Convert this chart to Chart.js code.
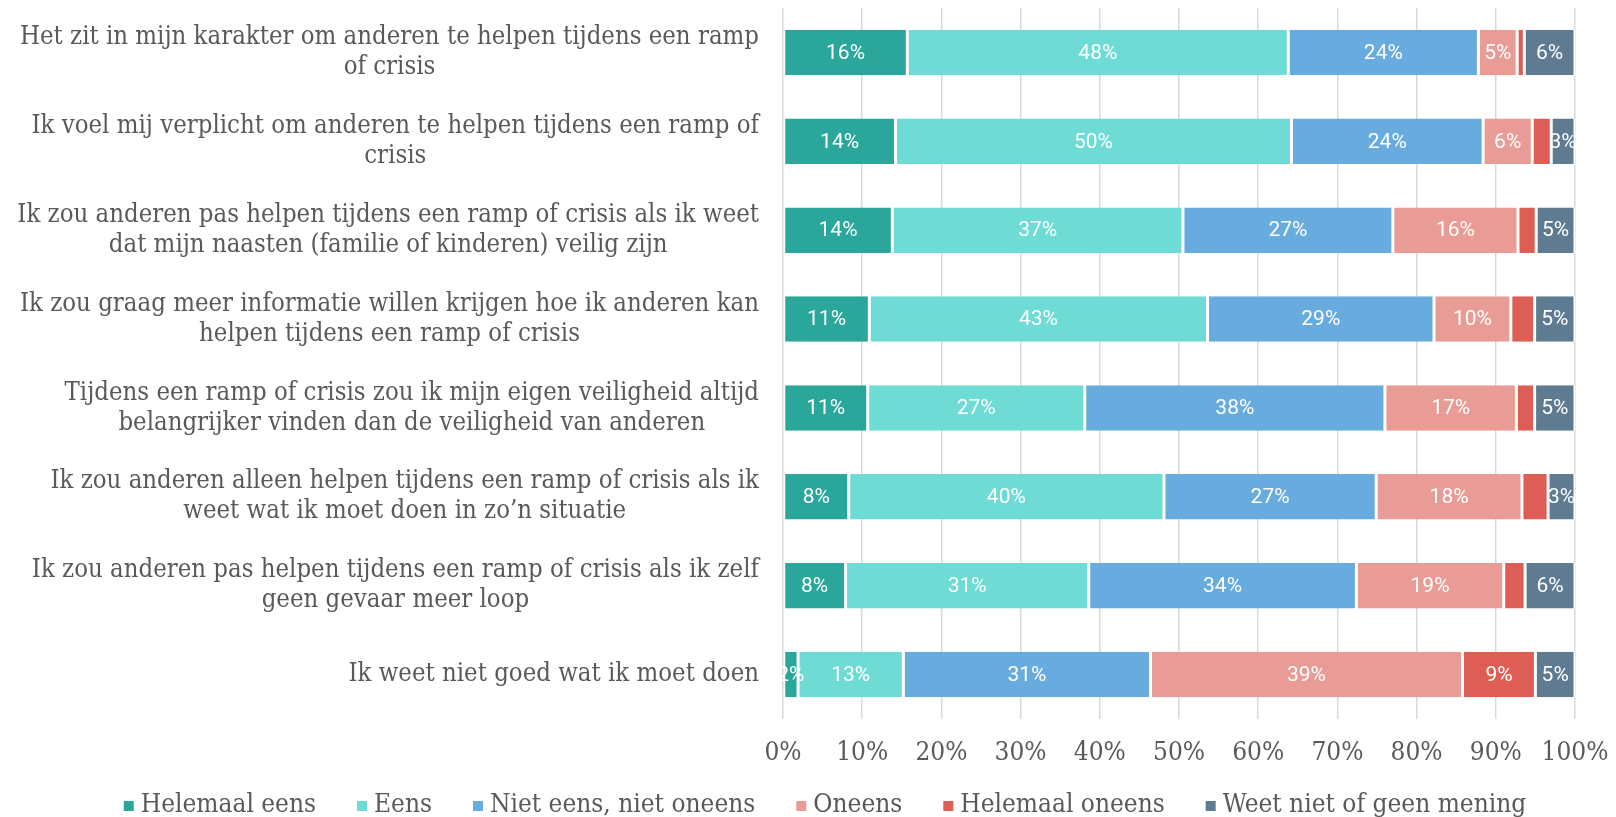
<!DOCTYPE html>
<html>
<head>
<meta charset="utf-8">
<script src="https://cdn.jsdelivr.net/npm/chart.js@4.4.1/dist/chart.umd.min.js"></script>
<style>
html,body{margin:0;padding:0;background:#fff;}
#wrap{width:1616px;height:817px;}
</style>
</head>
<body>
<div id="wrap"><canvas id="c" width="1616" height="817"></canvas></div>
<script>
const categories = [
  ["Het zit in mijn karakter om anderen te helpen tijdens een ramp", "of crisis"],
  ["Ik voel mij verplicht om anderen te helpen tijdens een ramp of", "crisis"],
  ["Ik zou anderen pas helpen tijdens een ramp of crisis als ik weet", "dat mijn naasten (familie of kinderen) veilig zijn"],
  ["Ik zou graag meer informatie willen krijgen hoe ik anderen kan", "helpen tijdens een ramp of crisis"],
  ["Tijdens een ramp of crisis zou ik mijn eigen veiligheid altijd", "belangrijker vinden dan de veiligheid van anderen"],
  ["Ik zou anderen alleen helpen tijdens een ramp of crisis als ik", "weet wat ik moet doen in zo’n situatie"],
  ["Ik zou anderen pas helpen tijdens een ramp of crisis als ik zelf", "geen gevaar meer loop"],
  ["Ik weet niet goed wat ik moet doen"]
];
const seriesNames = ["Helemaal eens", "Eens", "Niet eens, niet oneens", "Oneens", "Helemaal oneens", "Weet niet of geen mening"];
const helemaalEens = [15.7, 14.2, 13.8, 10.9, 10.7, 8.3, 7.9, 1.9];
const eens         = [48.1, 50.0, 36.7, 42.7, 27.4, 39.8, 30.7, 13.3];
const nietEens     = [24.0, 24.2, 26.5, 28.6, 37.9, 26.8, 33.8, 31.2];
const oneens       = [4.9, 6.2, 15.8, 9.7, 16.6, 18.4, 18.6, 39.4];
const helemaalOneens = [0.9, 2.4, 2.3, 3.0, 2.3, 3.3, 2.7, 9.2];
const weetNiet     = [6.4, 3.0, 4.9, 5.1, 5.1, 3.4, 6.3, 5.0];
const xTicks = [0, 10, 20, 30, 40, 50, 60, 70, 80, 90, 100];
const seriesColors = ["#2AA69A", "#6EDBD4", "#68ABDF", "#E99C96", "#DE5D54", "#5E7B91"];

const LABEL_FONT = '"DejaVu Serif Condensed", "DejaVu Serif", "Liberation Serif", serif';
const TEXT_COLOR = '#595959';

const allSeries = [helemaalEens, eens, nietEens, oneens, helemaalOneens, weetNiet];

const datasets = allSeries.map((d, i) => ({
  label: seriesNames[i],
  data: d,
  backgroundColor: seriesColors[i],
  borderColor: '#ffffff',
  borderWidth: {left: 1.5, right: 1.5, top: 0, bottom: 0},
  borderSkipped: false,
  barPercentage: 0.512,
  categoryPercentage: 1.0
}));

const valueLabels = {
  id: 'valueLabels',
  afterDatasetsDraw(chart) {
    const ctx = chart.ctx;
    ctx.save();
    ctx.font = '21px Roboto, "Open Sans", sans-serif';
    ctx.fillStyle = '#ffffff';
    ctx.textAlign = 'center';
    ctx.textBaseline = 'middle';
    chart.data.datasets.forEach((ds, di) => {
      const meta = chart.getDatasetMeta(di);
      meta.data.forEach((el, i) => {
        const v = ds.data[i];
        if (di === 4 && v < 5) return;
        const cx = (el.x + el.base) / 2;
        ctx.fillText(Math.round(v) + '%', cx, el.y + 1);
      });
    });
    ctx.restore();
  }
};

const catLabels = {
  id: 'catLabels',
  afterDraw(chart) {
    const ctx = chart.ctx;
    const ys = chart.scales.y;
    ctx.save();
    ctx.font = '25.5px ' + LABEL_FONT;
    ctx.fillStyle = TEXT_COLOR;
    ctx.textAlign = 'center';
    ctx.textBaseline = 'middle';
    const right = 759;
    const lh = 30;
    categories.forEach((lines, i) => {
      const y = ys.getPixelForValue(i);
      const w = Math.max(...lines.map(l => ctx.measureText(l).width));
      const cx = right - w / 2;
      const y0 = y - (lines.length - 1) * lh / 2;
      lines.forEach((l, k) => ctx.fillText(l, cx, y0 + k * lh));
    });
    ctx.restore();
  }
};

const customLegend = {
  id: 'customLegend',
  afterDraw(chart) {
    const ctx = chart.ctx;
    ctx.save();
    ctx.font = '26px ' + LABEL_FONT;
    ctx.textBaseline = 'middle';
    ctx.textAlign = 'left';
    const box = 10, gapText = 7, gapItem = 41;
    const widths = chart.data.datasets.map(ds => box + gapText + ctx.measureText(ds.label).width);
    const total = widths.reduce((a, b) => a + b, 0) + gapItem * (widths.length - 1);
    let x = 825 - total / 2;
    const y = 805;
    chart.data.datasets.forEach((ds, i) => {
      ctx.fillStyle = ds.backgroundColor;
      ctx.fillRect(x, y - box / 2 + 1, box, box);
      ctx.fillStyle = TEXT_COLOR;
      ctx.fillText(ds.label, x + box + gapText, y);
      x += widths[i] + gapItem;
    });
    ctx.restore();
  }
};

new Chart(document.getElementById('c'), {
  type: 'bar',
  data: { labels: categories.map(l => l.join(' ')), datasets },
  options: {
    indexAxis: 'y',
    responsive: false,
    animation: false,
    layout: { padding: { top: 8, right: 41, left: 0, bottom: 0 } },
    scales: {
      x: {
        stacked: true,
        min: 0, max: 100,
        afterBuildTicks(s) { s.ticks = xTicks.map(v => ({ value: v })); },
        afterFit(s) { s.height = 98; s.paddingLeft = 0; s.paddingRight = 0; },
        grid: { color: '#d9d9d9', lineWidth: 1.5, drawTicks: false },
        border: { display: false },
        ticks: {
          callback: v => v + '%',
          color: TEXT_COLOR,
          font: { family: LABEL_FONT, size: 26 },
          padding: 19,
          maxRotation: 0
        }
      },
      y: {
        stacked: true,
        grid: { display: false },
        border: { display: false },
        ticks: { display: false },
        afterFit(s) { s.width = 783; }
      }
    },
    plugins: {
      legend: { display: false },
      tooltip: { enabled: false }
    }
  },
  plugins: [valueLabels, catLabels, customLegend]
});
</script>
</body>
</html>
